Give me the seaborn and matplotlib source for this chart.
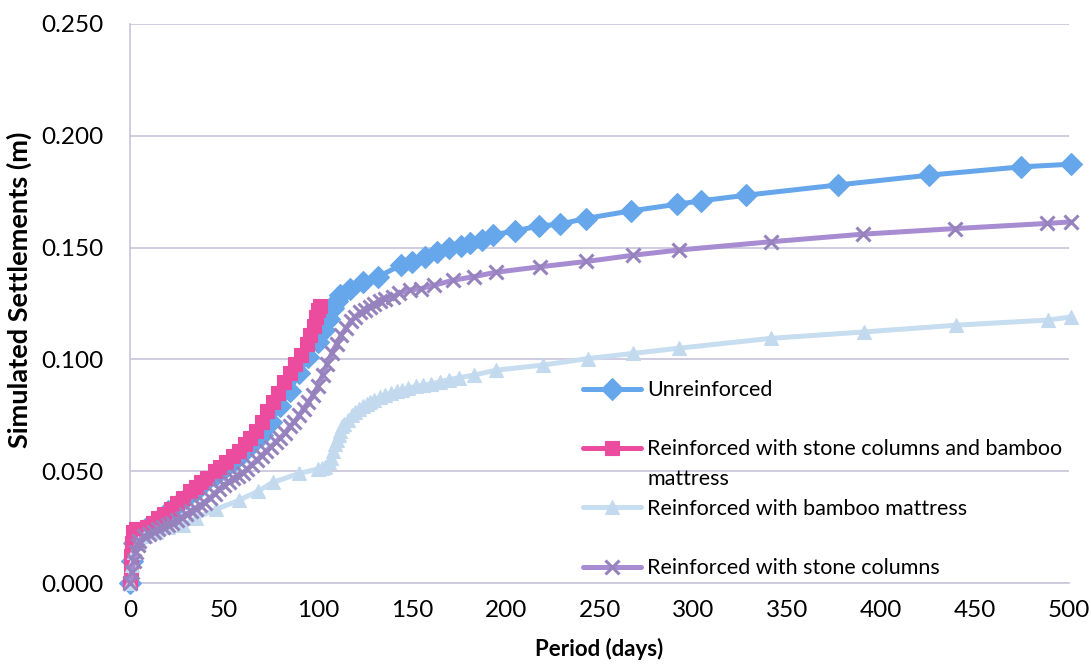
import matplotlib
matplotlib.use("Agg")
import matplotlib.pyplot as plt
import seaborn as sns
import pandas as pd
from matplotlib.lines import Line2D

# ---------------- data ----------------
days_unreinforced = [0, 1, 2, 4, 8, 12, 16, 20, 25, 30, 35, 40, 45, 50, 55, 60, 65, 70, 75,
                     80, 85, 90, 95, 100, 103, 106, 108, 110, 112, 117, 124, 132, 144, 150,
                     157, 163.5, 170, 176, 181, 187.5, 193, 205, 217.5, 229, 242.5, 266.5,
                     291.4, 303.8, 327.8, 376.7, 425.5, 474.4, 501]
settle_unreinforced = [0.000, 0.010, 0.018, 0.022, 0.024, 0.026, 0.029, 0.032, 0.035, 0.038,
                       0.041, 0.045, 0.048, 0.051, 0.054, 0.058, 0.062, 0.066, 0.072, 0.079,
                       0.086, 0.094, 0.101, 0.108, 0.113, 0.118, 0.123, 0.126, 0.1287, 0.1317,
                       0.1347, 0.1369, 0.1421, 0.1436, 0.1459, 0.148, 0.1496, 0.1507, 0.152,
                       0.1536, 0.1556, 0.1575, 0.1596, 0.1605, 0.163, 0.1664, 0.1694, 0.1709,
                       0.1734, 0.178, 0.1824, 0.1861, 0.1873]

days_sc_bamboo = [0, 0.3, 0.6, 1, 1.5, 3, 6, 9, 12, 15, 18, 22, 25, 28, 32, 35, 38, 41, 45,
                  48, 51, 55, 58, 61, 64, 67, 70, 73, 76, 79, 82, 85, 88, 91, 94, 96, 98, 99,
                  100, 101]
settle_sc_bamboo = [0.000, 0.006, 0.012, 0.018, 0.023, 0.024, 0.024, 0.025, 0.027, 0.029,
                    0.031, 0.033, 0.036, 0.038, 0.041, 0.043, 0.045, 0.047, 0.050, 0.052,
                    0.054, 0.057, 0.059, 0.062, 0.065, 0.068, 0.072, 0.077, 0.081, 0.085,
                    0.090, 0.094, 0.098, 0.102, 0.107, 0.111, 0.115, 0.119, 0.122, 0.124]

days_bamboo = [0, 1, 2, 4, 8, 14, 20, 28, 35, 46, 58, 68, 76, 90, 100, 102, 104, 106, 107,
               108, 109, 110, 111, 112, 113, 114, 116, 118, 120, 122, 124, 126, 128, 130,
               133, 136, 139, 142, 145, 148, 152, 156, 160, 165, 170, 175, 183, 195, 220,
               244, 268, 292, 341, 391, 440, 488.6, 501]
settle_bamboo = [0.000, 0.008, 0.014, 0.018, 0.021, 0.023, 0.025, 0.026, 0.029, 0.033, 0.037,
                 0.041, 0.045, 0.049, 0.051, 0.0515, 0.052, 0.054, 0.056, 0.059, 0.062,
                 0.064, 0.066, 0.068, 0.070, 0.071, 0.073, 0.075, 0.0765, 0.078, 0.079,
                 0.080, 0.081, 0.082, 0.083, 0.084, 0.085, 0.0857, 0.0865, 0.087, 0.088,
                 0.0885, 0.089, 0.090, 0.091, 0.0918, 0.093, 0.0952, 0.0975, 0.1004, 0.1027,
                 0.105, 0.1094, 0.1123, 0.1153, 0.1176, 0.119]

days_sc = [0, 1, 2, 3, 4, 5, 7.5, 10, 12.5, 15, 17.5, 20, 22.5, 25, 27.5, 30, 32.5, 35,
           37.5, 40, 42.5, 45, 47.5, 50, 52.5, 55, 57.5, 60, 62.5, 65, 67.5, 70, 72.5, 75,
           77.5, 80, 82.5, 85, 87.5, 90, 92.5, 95, 97.5, 100, 102.5, 105, 107.5, 110,
           112.5, 115, 117.5, 120, 122.5, 125, 127.5, 130, 133, 136, 140, 143, 149, 155,
           162, 172, 183, 195, 218, 243, 268, 292, 341, 390, 439, 488, 501]
settle_sc = [0.000, 0.005, 0.010, 0.014, 0.017, 0.019, 0.021, 0.022, 0.023, 0.024, 0.025,
             0.026, 0.027, 0.028, 0.029, 0.031, 0.032, 0.033, 0.035, 0.036, 0.038, 0.040,
             0.042, 0.044, 0.045, 0.047, 0.048, 0.049, 0.051, 0.053, 0.055, 0.057, 0.059,
             0.061, 0.063, 0.065, 0.067, 0.070, 0.072, 0.075, 0.078, 0.081, 0.084, 0.088,
             0.093, 0.098, 0.103, 0.107, 0.111, 0.114, 0.117, 0.119, 0.121, 0.122, 0.1235,
             0.125, 0.126, 0.127, 0.128, 0.1295, 0.131, 0.1317, 0.1332, 0.1354, 0.137,
             0.139, 0.1414, 0.1438, 0.1466, 0.1489, 0.1526, 0.156, 0.1585, 0.1608, 0.1615]

labels = ["Unreinforced",
          "Reinforced with stone columns and bamboo",
          "Reinforced with bamboo mattress",
          "Reinforced with stone columns"]
label_wrap = "mattress"
y_ticks = [0.000, 0.050, 0.100, 0.150, 0.200, 0.250]
x_ticks = [0, 50, 100, 150, 200, 250, 300, 350, 400, 450, 500]

# ---------------- style ----------------
sns.set_style("white")
plt.rcParams['font.family'] = ['Lato', 'DejaVu Sans']

colors = ["#66A6EA", "#EC4C9E", "#C7DDF0", "#A88CD2"]
mcolors = ["#66A6EA", "#EC4C9E", "#C3DAEE", "#9683BD"]
markers = ["D", "s", "^", "x"]
msizes = [11, 9.5, 10.5, 10.5]
mews = [0.8, 0.8, 0.8, 2.2]

fig = plt.figure(figsize=(10.91, 6.68), dpi=100)
ax = fig.add_axes([0.1192, 0.1272, 0.8608, 0.8369])

series = [(days_unreinforced, settle_unreinforced),
          (days_sc_bamboo, settle_sc_bamboo),
          (days_bamboo, settle_bamboo),
          (days_sc, settle_sc)]

handles = []
for i, (d, s) in enumerate(series):
    df = pd.DataFrame({"day": d, "settlement": s})
    sns.lineplot(data=df, x="day", y="settlement", ax=ax, color=colors[i],
                 linewidth=3.6, marker=markers[i], markersize=msizes[i],
                 markeredgewidth=mews[i],
                 markerfacecolor=mcolors[i], markeredgecolor=mcolors[i],
                 estimator=None, sort=False, zorder=3 + i, clip_on=False)
    h = Line2D([], [], color=colors[i], linewidth=3.6, marker=markers[i],
               markersize=msizes[i], markerfacecolor=mcolors[i], markeredgecolor=mcolors[i],
               markeredgewidth=mews[i])
    handles.append(h)

ax.set_xlim(0, 500)
ax.set_ylim(0, 0.25)
ax.set_xticks(x_ticks)
ax.set_yticks(y_ticks)
ax.set_xticklabels([str(v) for v in x_ticks])
ax.set_yticklabels([f"{v:.3f}" for v in y_ticks])

grid_c = "#CCC8DE"
ax.yaxis.grid(True, color=grid_c, linewidth=1.3)
ax.xaxis.grid(False)
ax.set_axisbelow(True)
for side in ["top", "right"]:
    ax.spines[side].set_visible(False)
for side in ["left", "bottom"]:
    ax.spines[side].set_color(grid_c)
    ax.spines[side].set_linewidth(1.3)
ax.tick_params(axis="both", which="major", direction="out", length=5, width=1.2,
               color=grid_c, labelsize=17.5, labelcolor="black")
ax.tick_params(axis="y", pad=14)
ax.tick_params(axis="x", pad=7)

ax.set_xlabel("Period (days)", fontsize=16, fontweight="bold", color="black")
ax.set_ylabel("Simulated Settlements (m)", fontsize=19.5, fontweight="bold", color="black")
ax.xaxis.set_label_coords(0.5, -0.098)
ax.yaxis.set_label_coords(-0.104, 0.524)

blank = Line2D([], [], linestyle="none")
leg_handles = [handles[0], blank, handles[1], blank, handles[2], blank, handles[3]]
leg_labels = [labels[0], " ", labels[1], label_wrap, labels[2], " ", labels[3]]
leg = ax.legend(leg_handles, leg_labels, loc="upper left",
                bbox_to_anchor=(0.482, 0.363), frameon=False, fontsize=15.5,
                handlelength=2.7, handletextpad=0.3, labelspacing=0.45,
                borderaxespad=0, borderpad=0)
for t in leg.get_texts():
    t.set_color("black")

fig.savefig("out.png", dpi=100)
